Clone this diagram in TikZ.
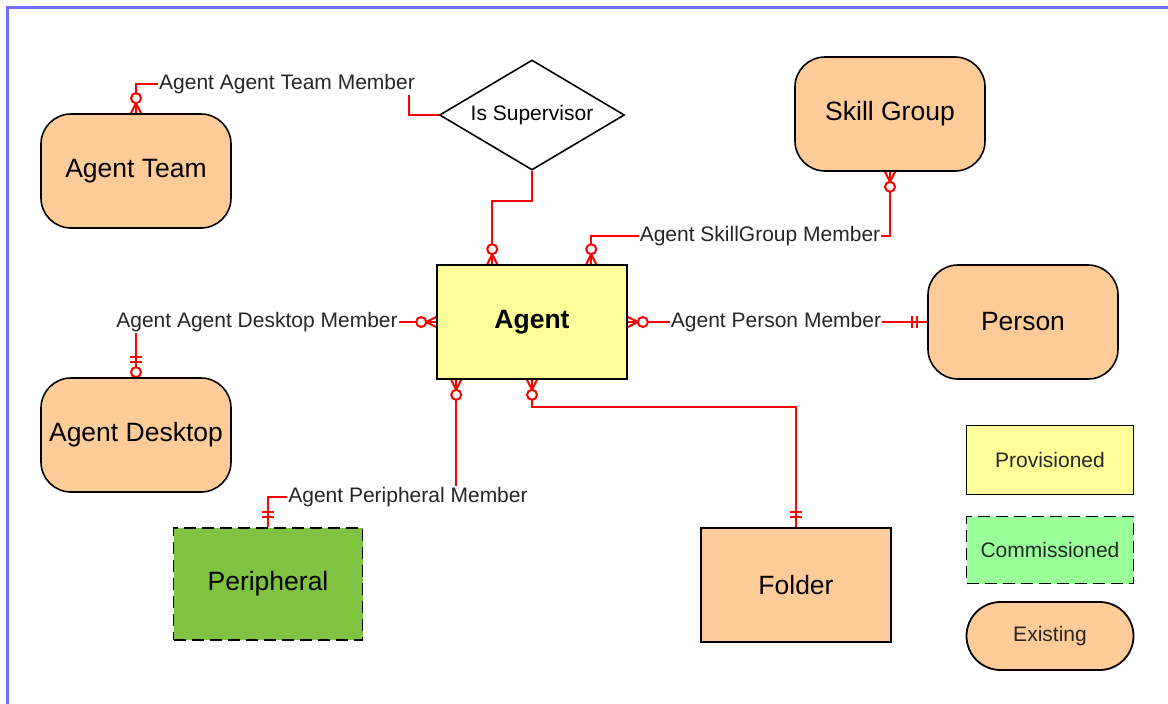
\documentclass[tikz,border=0pt]{standalone}
\usepackage{fontspec}
\setmainfont{Liberation Sans}
\usetikzlibrary{shapes.geometric,backgrounds}
\definecolor{peach}{RGB}{255,204,153}
\definecolor{provyellow}{RGB}{255,255,153}
\definecolor{perigreen}{RGB}{128,194,66}
\definecolor{commgreen}{RGB}{153,255,153}
\definecolor{frameblue}{RGB}{110,110,255}

% end marks of the relations, #1 = point on the box, #2 = direction away from it
\newcommand{\ringcrow}[2]{%
  \begin{scope}[shift={(#1)},rotate=#2]
    \draw[rel] (0,5) -- (10,0) -- (0,-5);
    \draw[rel,fill=white] (15,0) circle (5);
  \end{scope}}
\newcommand{\onlyone}[2]{%
  \begin{scope}[shift={(#1)},rotate=#2]
    \draw[rel] (10,-6) -- (10,6) (15,-6) -- (15,6);
  \end{scope}}
\newcommand{\ringbars}[2]{%
  \begin{scope}[shift={(#1)},rotate=#2]
    \draw[rel] (15,-6) -- (15,6) (20,-6) -- (20,6);
    \draw[rel,fill=white] (5,0) circle (5);
  \end{scope}}

\begin{document}
\begin{tikzpicture}[x=1pt,y=-1pt,
    entity/.style={draw=black,line width=1.6pt,minimum width=190pt,minimum height=114pt,
      font=\fontsize{26.5}{30}\selectfont},
    existing/.style={entity,fill=peach,rounded corners=30pt},
    rel/.style={draw=red,line width=2pt},
    rellabel/.style={fill=white,inner sep=1pt,text=black!85,font=\fontsize{21}{24}\selectfont},
    legend/.style={draw=black,line width=1.8pt,minimum width=167pt,minimum height=68pt,
      text=black!85,font=\fontsize{21}{24}\selectfont}]
  \useasboundingbox (0,0) rectangle (1168,704);
  \draw[frameblue,line width=3pt] (7,704) -- (7,7) -- (1168,7);

  % entities
  \node[existing] (team) at (136,171) {Agent Team};
  \node[existing] (desk) at (136,435) {Agent Desktop};
  \node[existing] (skill) at (890,114) {Skill Group};
  \node[existing] (person) at (1023,322) {Person};
  \node[entity,fill=provyellow,font=\fontsize{26.5}{30}\selectfont\bfseries] (agent) at (532,322) {Agent};
  \node[entity,fill=perigreen,dash pattern=on 12pt off 6pt,minimum width=189pt,minimum height=112pt] (peri) at (268,584) {Peripheral};
  \node[entity,fill=peach] (folder) at (796,585) {Folder};
  \node[diamond,draw=black,line width=1.6pt,fill=white,aspect=1.68,minimum width=185pt,
    minimum height=110pt,inner sep=0pt,font=\fontsize{21}{24}\selectfont] (sup) at (532,115) {Is Supervisor};

  % relation labels
  \node[rellabel] (lblTeam) at (287,84) {Agent Agent Team Member};
  \node[rellabel] (lblSkill) at (760,236) {Agent SkillGroup Member};
  \node[rellabel] (lblDesk) at (257,322) {Agent Agent Desktop Member};
  \node[rellabel] (lblPerson) at (776,322) {Agent Person Member};
  \node[rellabel] (lblPeri) at (408,497) {Agent Peripheral Member};

  % legend
  \node[legend,fill=provyellow,minimum height=69pt] (keyProv) at (1050,460) {Provisioned};
  \node[legend,fill=commgreen,dash pattern=on 12pt off 6pt,minimum height=67pt] (keyComm) at (1050,550) {Commissioned};
  \node[legend,fill=peach,rounded corners=34pt] (keyExist) at (1050,636) {Existing};

  \begin{scope}[on background layer]
    \coordinate (aN1) at ([xshift=56pt]agent.north west);
    \coordinate (aN2) at ([xshift=155pt]agent.north west);
    \coordinate (aS1) at ([xshift=20pt]agent.south west);

    \draw[rel] (team.north) |- (lblTeam.west);
    \draw[rel] ([xshift=-7pt]lblTeam.east) |- (sup.west);
    \draw[rel] (sup.south) -- ++(0,30) -| (aN1);
    \draw[rel] (aN2) |- (lblSkill.west);
    \draw[rel] (lblSkill.east) -| (skill.south);
    \draw[rel] (agent.west) -- (lblDesk.east);
    \draw[rel] (desk.north) -- (desk.north |- lblDesk.south);
    \draw[rel] (agent.east) -- (lblPerson.west);
    \draw[rel] (lblPerson.east) -- (person.west);
    \draw[rel] (aS1) -- (aS1 |- lblPeri.north);
    \draw[rel] (lblPeri.west) -| (peri.north);
    \draw[rel] (agent.south) -- ++(0,27) -| (folder.north);

    \ringcrow{team.north}{90}
    \ringcrow{aN1}{90}
    \ringcrow{aN2}{90}
    \ringcrow{skill.south}{270}
    \ringcrow{agent.west}{180}
    \ringcrow{agent.east}{0}
    \ringcrow{aS1}{270}
    \ringcrow{agent.south}{270}
    \onlyone{person.west}{180}
    \onlyone{peri.north}{90}
    \onlyone{folder.north}{90}
    \ringbars{desk.north}{90}
  \end{scope}
\end{tikzpicture}
\end{document}
